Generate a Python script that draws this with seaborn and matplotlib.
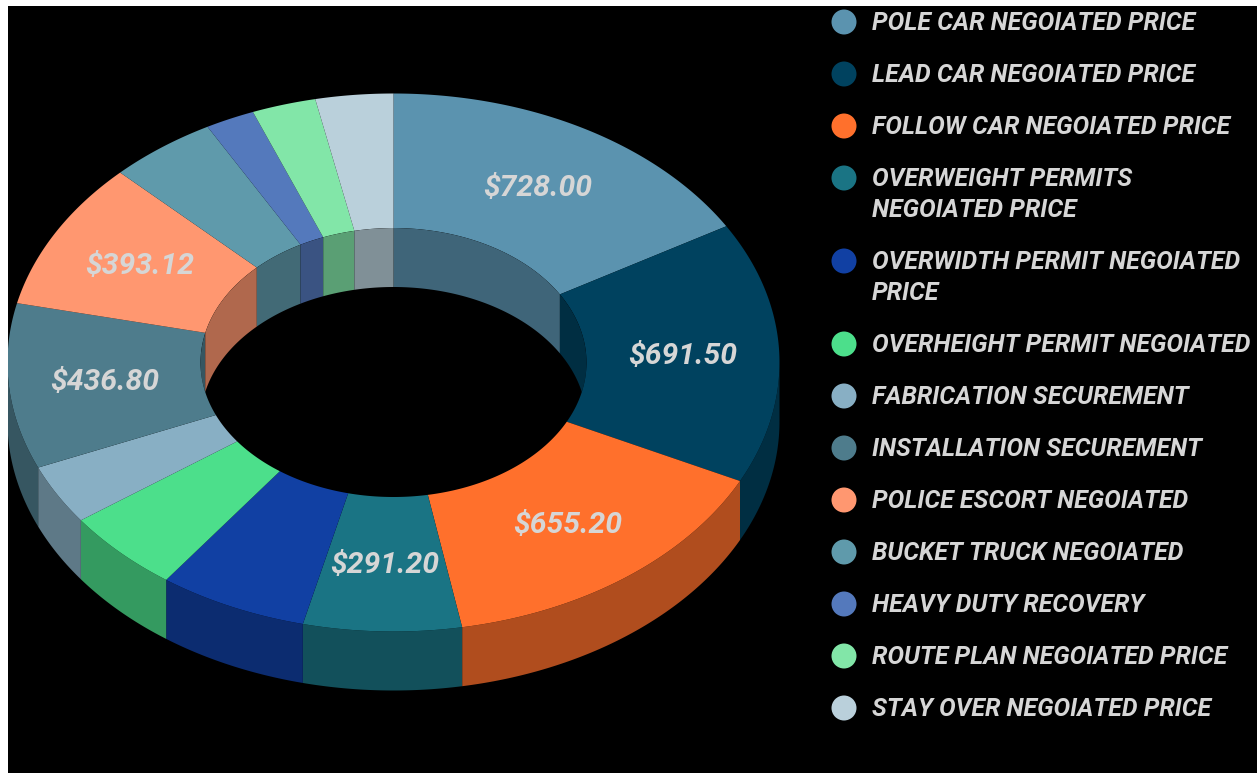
import matplotlib
matplotlib.use("Agg")
import matplotlib.pyplot as plt
from matplotlib.patches import Polygon
import seaborn as sns
import pandas as pd
import numpy as np

sns.set_theme(style="white")
plt.rcParams['font.family'] = ['Roboto', 'DejaVu Sans']

# --- data ---
names = [
    'POLE CAR NEGOIATED PRICE', 'LEAD CAR NEGOIATED PRICE', 'FOLLOW CAR NEGOIATED PRICE',
    'OVERWEIGHT PERMITS\nNEGOIATED PRICE', 'OVERWIDTH PERMIT NEGOIATED\nPRICE',
    'OVERHEIGHT PERMIT NEGOIATED', 'FABRICATION SECUREMENT', 'INSTALLATION SECUREMENT',
    'POLICE ESCORT NEGOIATED', 'BUCKET TRUCK NEGOIATED', 'HEAVY DUTY RECOVERY',
    'ROUTE PLAN NEGOIATED PRICE', 'STAY OVER NEGOIATED PRICE',
]
values = [728.00, 691.50, 655.20, 291.20, 275.00, 220.00, 158.00,
          436.80, 393.12, 199.00, 91.00, 118.00, 143.00]
colors = ['#5B93AF', '#00425F', '#FF702C', '#1A7484', '#1140A3', '#4CDF8B', '#88AFC4',
          '#4E7C8C', '#FF9770', '#5F9AAB', '#5479BC', '#82E6A8', '#BAD0DB']

# --- geometry (pixels) ---
W, H = 1257, 773
CX, CY = 393.5, 362.5
RX, RY = 386, 269
HOLE = 0.5
DEPTH = 59
SHADE = 0.69
LABEL_MIN = 280
TEXT = '#D6D6D6'

palette = sns.color_palette(colors)
dark = [tuple(c * SHADE for c in col) for col in palette]

fig = plt.figure(figsize=(W / 100, H / 100), dpi=100, facecolor='white')
ax = fig.add_axes([8 / W, 0, 1 - 8 / W, 1 - 6 / H], facecolor='black')
ax.set_xlim(8, W)
ax.set_ylim(H, 6)
ax.set_xticks([])
ax.set_yticks([])
sns.despine(ax=ax, left=True, bottom=True)

edges = np.cumsum([0] + values) / sum(values) * 360


def arc(a, b, k=1.0, drop=0):
    t = np.radians(np.linspace(a, b, max(int(abs(b - a)) * 2, 2) + 1))
    return np.c_[CX + RX * k * np.sin(t), CY - RY * k * np.cos(t) + drop]


def band(a, b, k):
    # side wall between angles a and b on the ellipse of scale k
    return np.vstack([arc(a, b, k), arc(b, a, k, DEPTH)])


hole_clip = Polygon(arc(0, 360, HOLE), closed=True, transform=ax.transData)

for i, (a, b) in enumerate(zip(edges[:-1], edges[1:])):
    # outer wall, front half only
    lo, hi = max(a, 90), min(b, 270)
    if lo < hi:
        ax.fill(*band(lo, hi, 1).T, color=dark[i], lw=0, zorder=1)
    # inner wall, back half only
    for lo, hi in [(a, min(b, 90)), (max(a, 270), b)]:
        if lo < hi:
            p = ax.fill(*band(lo, hi, HOLE).T, color=dark[i], lw=0, zorder=2)[0]
            p.set_clip_path(hole_clip)
    # top face
    ring = np.vstack([arc(a, b), arc(b, a, HOLE)])
    ax.fill(*ring.T, color=palette[i], lw=0, zorder=3)
    # value label
    if values[i] >= LABEL_MIN:
        x, y = arc((a + b) / 2, (a + b) / 2, (1 + HOLE) / 2)[0]
        ax.text(x, y + 1, f'${values[i]:.2f}', color=TEXT, fontsize=21.7, style='italic',
                fontweight='bold', ha='center', va='center', zorder=5)

# --- legend ---
rows = []
y = 22
for name in names:
    rows.append(y)
    y += 52 + 31 * name.count('\n')
legend = pd.DataFrame({'x': 844, 'y': rows, 'name': names})
sns.scatterplot(data=legend, x='x', y='y', hue='name', hue_order=names, palette=colors,
                s=324, linewidth=0, legend=False, ax=ax, zorder=5, clip_on=False)
ax.set_xlabel('')
ax.set_ylabel('')
for name, y in zip(names, rows):
    ax.text(872, y - 11, name, color=TEXT, fontsize=17.9, style='italic', fontweight='bold',
            ha='left', va='top', linespacing=1.38, zorder=5)

fig.savefig('out.png', dpi=100, facecolor='white')
